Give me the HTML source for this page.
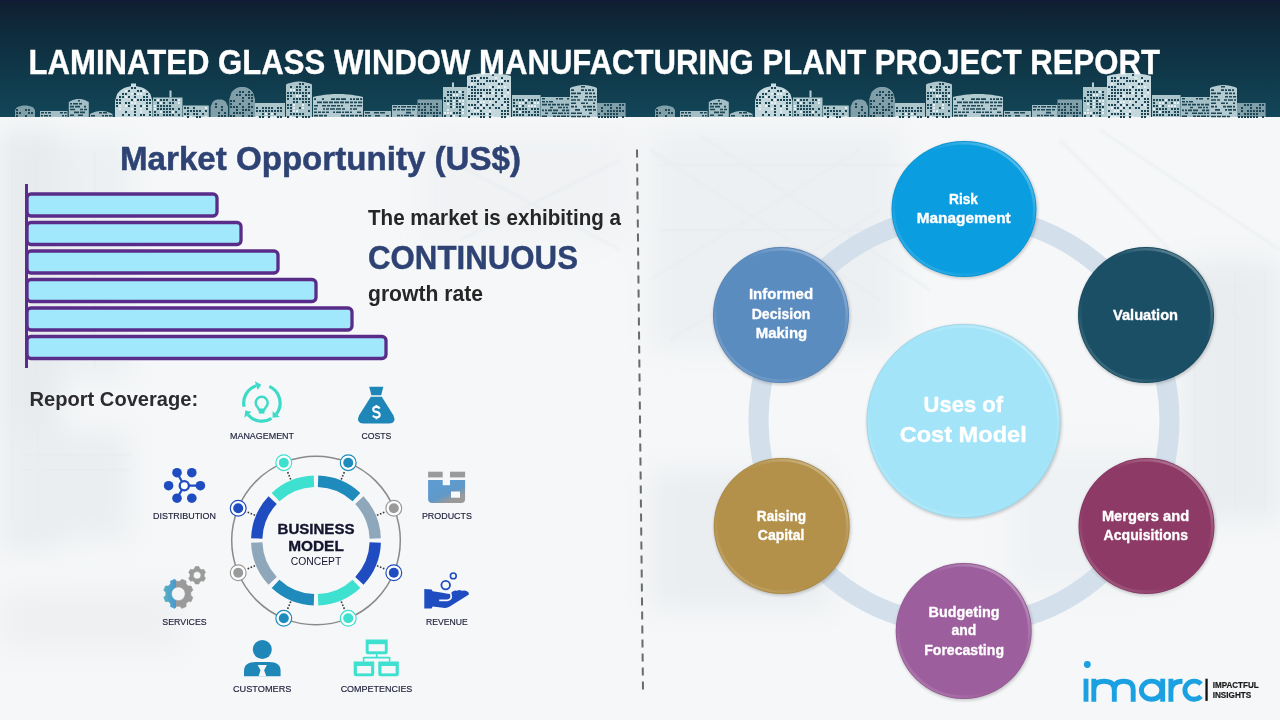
<!DOCTYPE html>
<html><head><meta charset="utf-8">
<style>
html,body{margin:0;padding:0;width:1280px;height:720px;overflow:hidden;background:#eef2f5;}
svg{display:block;font-family:"Liberation Sans",sans-serif;will-change:transform;}
</style></head><body>
<svg width="1280" height="720" viewBox="0 0 1280 720">
<defs>
  <linearGradient id="hg" x1="0" y1="0" x2="0" y2="1">
    <stop offset="0" stop-color="#101d30"/>
    <stop offset="0.28" stop-color="#0e2c3d"/>
    <stop offset="0.55" stop-color="#0f3647"/>
    <stop offset="1" stop-color="#124658"/>
  </linearGradient>
  <linearGradient id="bgL" x1="0" y1="0" x2="1" y2="0">
    <stop offset="0" stop-color="#e9edf0"/>
    <stop offset="0.5" stop-color="#f1f4f6"/>
    <stop offset="1" stop-color="#f3f5f7"/>
  </linearGradient>
  <pattern id="win" width="3" height="3" patternUnits="userSpaceOnUse">
    <rect x="0" y="0" width="2" height="1.8" fill="#d5e3e7"/>
  </pattern>
  <pattern id="win2" width="4" height="3" patternUnits="userSpaceOnUse">
    <rect x="0" y="0" width="3" height="1.8" fill="#dce8eb"/>
  </pattern>
  <pattern id="win3" width="3" height="3" patternUnits="userSpaceOnUse">
    <rect x="0" y="0" width="2.2" height="2" fill="#e4eef0"/>
    <rect x="1" y="1" width="1" height="1" fill="#1b3f4c"/>
  </pattern>
  <pattern id="hst" width="5" height="3" patternUnits="userSpaceOnUse">
    <rect x="0" y="0" width="4" height="1.6" fill="#c7d9de"/>
  </pattern>
  <pattern id="hst2" width="7" height="3.5" patternUnits="userSpaceOnUse">
    <rect x="0" y="0" width="6" height="2" fill="#d5e3e7"/>
  </pattern>
  <pattern id="blob" width="3" height="3" patternUnits="userSpaceOnUse">
    <rect x="0" y="0" width="2" height="2" fill="#9fb9c1"/>
  </pattern>
</defs>
<rect x="0" y="117" width="1280" height="603" fill="#f5f7f8"/>
<filter id="blur6" x="-30%" y="-30%" width="160%" height="160%"><feGaussianBlur stdDeviation="14"/></filter>
<filter id="blur2" x="-20%" y="-20%" width="140%" height="140%"><feGaussianBlur stdDeviation="1.2"/></filter>
<g filter="url(#blur6)">
  <rect x="0" y="130" width="60" height="420" fill="#e7ebee"/>
  <rect x="60" y="140" width="70" height="240" fill="#ecf0f2"/>
  <rect x="0" y="430" width="130" height="110" fill="#ebeef1"/>
  <rect x="0" y="590" width="180" height="60" fill="#eef0f2"/>
  <rect x="420" y="130" width="210" height="110" fill="#f0f2f4"/>
  <rect x="650" y="130" width="250" height="220" fill="#edf0f3"/>
  <rect x="1185" y="260" width="95" height="260" fill="#e9edf0"/>
  <rect x="650" y="470" width="180" height="140" fill="#ebeef1"/>
  <rect x="1010" y="450" width="160" height="140" fill="#eff2f4"/>
</g>
<g filter="url(#blur2)" stroke="#e6eaed" stroke-width="2.5" fill="none" opacity="0.5">
  <path d="M12,140 L12,520 M38,140 L38,520 M95,150 L95,370 M20,455 L130,455 M20,470 L130,470"/>
  <path d="M650,150 L880,300 M700,135 L930,290 M650,280 L860,150 M670,340 L880,210 M660,165 L940,165 M660,230 L900,230"/>
  <path d="M1195,270 L1195,510 M1235,270 L1235,510 M1265,270 L1265,510 M1060,140 L1240,320 M1100,130 L1280,250"/>
  <path d="M430,150 L620,250 M460,240 L620,160"/>
</g>

<rect x="0" y="0" width="1280" height="117" fill="url(#hg)"/>
<rect x="0" y="0" width="1280" height="1.5" fill="#14193a"/>

<g id="skyA">
<path d="M115.0,117 L115.0,101.0 L117.1,94.1 L119.2,91.6 L121.2,89.8 L123.3,88.5 L125.4,87.6 L127.5,86.9 L129.6,86.4 L131.7,86.1 L133.8,86.0 L135.8,86.1 L137.9,86.4 L140.0,86.9 L142.1,87.6 L144.2,88.5 L146.2,89.8 L148.3,91.6 L150.4,94.1 L152.5,101.0 L152.5,117 Z M467.0,117 L467.0,76.0 L469.0,75.5 L471.0,75.0 L473.0,74.6 L475.0,74.2 L477.0,73.9 L479.0,73.6 L481.0,73.4 L483.0,73.2 L485.0,73.1 L487.0,73.0 L489.0,73.0 L491.0,73.0 L493.0,73.1 L495.0,73.2 L497.0,73.4 L499.0,73.6 L501.0,73.9 L503.0,74.2 L505.0,74.6 L507.0,75.0 L509.0,75.5 L511.0,76.0 L511.0,117 Z" fill="#c3d7dc"/>
<path d="M153.0,117 L153.0,97.5 L155.1,97.5 L157.2,97.5 L159.3,97.5 L161.4,97.5 L163.5,97.5 L165.6,97.5 L167.8,97.5 L169.9,97.5 L172.0,97.5 L174.1,97.5 L176.2,97.5 L178.3,97.5 L180.4,97.5 L182.5,97.5 L182.5,117 Z M183.0,117 L183.0,105.6 L185.1,105.6 L187.3,105.6 L189.4,105.6 L191.6,105.6 L193.7,105.6 L195.9,105.6 L198.0,105.6 L200.2,105.6 L202.3,105.6 L204.5,105.6 L206.6,105.6 L208.8,105.6 L208.8,117 Z M255.0,117 L255.0,103.0 L257.0,103.0 L259.0,103.0 L261.0,103.0 L263.0,103.0 L265.0,103.0 L267.0,103.0 L269.0,103.0 L271.0,103.0 L273.0,103.0 L275.0,103.0 L277.0,103.0 L279.0,103.0 L281.0,103.0 L283.0,103.0 L285.0,103.0 L285.0,117 Z M286.0,117 L286.0,84.5 L288.0,83.6 L290.0,82.9 L292.0,82.4 L294.0,81.9 L296.0,81.7 L298.0,81.5 L300.0,81.5 L302.0,81.7 L304.0,81.9 L306.0,82.4 L308.0,82.9 L310.0,83.6 L312.0,84.5 L312.0,117 Z M443.0,117 L443.0,87.0 L445.0,87.0 L447.0,87.0 L449.0,87.0 L451.0,87.0 L453.0,87.0 L455.0,87.0 L457.0,87.0 L459.0,87.0 L461.0,87.0 L463.0,87.0 L465.0,87.0 L467.0,87.0 L467.0,117 Z M512.0,117 L512.0,95.0 L514.0,95.0 L516.1,95.0 L518.1,95.0 L520.2,95.0 L522.2,95.0 L524.3,95.0 L526.3,95.0 L528.3,95.0 L530.4,95.0 L532.4,95.0 L534.5,95.0 L536.5,95.0 L538.6,95.0 L540.6,95.0 L540.6,117 Z" fill="#adc6cc"/>
<path d="M40.0,117 L40.0,111.0 L42.1,111.0 L44.2,111.0 L46.3,111.0 L48.5,111.0 L50.6,111.0 L52.7,111.0 L54.8,111.0 L56.9,111.0 L59.0,111.0 L61.2,111.0 L63.3,111.0 L65.4,111.0 L67.5,111.0 L67.5,117 Z M68.8,117 L68.8,102.0 L70.8,100.9 L72.8,100.1 L74.8,99.5 L76.8,99.1 L78.8,99.0 L80.8,99.1 L82.8,99.5 L84.8,100.1 L86.8,100.9 L88.8,102.0 L88.8,117 Z M90.0,117 L90.0,114.0 L92.0,113.0 L94.1,112.2 L96.1,111.6 L98.2,111.2 L100.2,111.0 L102.3,111.0 L104.3,111.2 L106.4,111.6 L108.4,112.2 L110.5,113.0 L112.5,114.0 L112.5,117 Z M364.0,117 L364.0,111.0 L366.1,111.0 L368.2,111.0 L370.2,111.0 L372.3,111.0 L374.4,111.0 L376.5,111.0 L378.5,111.0 L380.6,111.0 L382.7,111.0 L384.8,111.0 L386.8,111.0 L388.9,111.0 L391.0,111.0 L391.0,117 Z M392.0,117 L392.0,105.0 L394.1,105.0 L396.2,105.0 L398.4,105.0 L400.5,105.0 L402.6,105.0 L404.8,105.0 L406.9,105.0 L409.0,105.0 L411.1,105.0 L413.2,105.0 L415.4,105.0 L417.5,105.0 L417.5,117 Z M541.0,117 L541.0,97.0 L543.1,97.0 L545.1,97.0 L547.2,97.0 L549.3,97.0 L551.4,97.0 L553.4,97.0 L555.5,97.0 L557.6,97.0 L559.6,97.0 L561.7,97.0 L563.8,97.0 L565.9,97.0 L567.9,97.0 L570.0,97.0 L570.0,117 Z" fill="#a3bec5"/>
<path d="M313.0,117 L313.0,97.0 L315.0,96.5 L317.0,96.1 L319.0,95.7 L321.0,95.4 L323.0,95.1 L325.0,94.8 L327.0,94.6 L329.0,94.4 L331.0,94.2 L333.0,94.1 L335.0,94.0 L337.0,94.0 L339.0,94.0 L341.0,94.0 L343.0,94.1 L345.0,94.2 L347.0,94.4 L349.0,94.6 L351.0,94.8 L353.0,95.1 L355.0,95.4 L357.0,95.7 L359.0,96.1 L361.0,96.5 L363.0,97.0 L363.0,117 Z M570.0,117 L570.0,88.0 L572.1,87.1 L574.2,86.4 L576.2,85.9 L578.3,85.4 L580.4,85.2 L582.5,85.0 L584.5,85.0 L586.6,85.2 L588.7,85.4 L590.8,85.9 L592.8,86.4 L594.9,87.1 L597.0,88.0 L597.0,117 Z" fill="#b3cbd1"/>
<path d="M15.0,117 L15.0,110.1 L17.0,107.3 L19.0,106.4 L21.0,105.9 L23.0,105.6 L25.0,105.5 L27.0,105.6 L29.0,105.9 L31.0,106.4 L33.0,107.3 L35.0,110.1 L35.0,117 Z M210.6,117 L210.6,106.4 L212.8,101.8 L214.9,100.3 L217.1,99.6 L219.3,99.4 L221.5,99.6 L223.7,100.3 L225.8,101.8 L228.0,106.4 L228.0,117 Z M229.4,117 L229.4,98.9 L231.5,92.3 L233.7,90.0 L235.8,88.5 L237.9,87.6 L240.1,87.1 L242.2,86.9 L244.3,87.1 L246.5,87.6 L248.6,88.5 L250.7,90.0 L252.9,92.3 L255.0,98.9 L255.0,117 Z M417.5,117 L417.5,99.4 L419.5,99.4 L421.6,99.4 L423.6,99.4 L425.7,99.4 L427.7,99.4 L429.8,99.4 L431.8,99.4 L433.8,99.4 L435.9,99.4 L437.9,99.4 L440.0,99.4 L442.0,99.4 L442.0,117 Z M597.0,117 L597.0,103.0 L599.0,103.0 L601.1,103.0 L603.1,103.0 L605.2,103.0 L607.2,103.0 L609.3,103.0 L611.3,103.0 L613.3,103.0 L615.4,103.0 L617.4,103.0 L619.5,103.0 L621.5,103.0 L623.6,103.0 L625.6,103.0 L625.6,117 Z" fill="#819fa8"/>
<path d="M16.0 109.0h2v2h-2zM25.0 109.0h2v2h-2zM28.0 109.0h2v2h-2zM16.0 112.0h2v2h-2zM19.0 112.0h2v2h-2zM28.0 112.0h2v2h-2zM31.0 112.0h2v2h-2zM16.0 115.0h2v2h-2zM25.0 115.0h2v2h-2zM41.0 112.0h3v1.6h-3zM45.0 112.0h2v1.6h-2zM48.0 112.0h3v1.6h-3zM60.0 112.0h3v1.6h-3zM64.0 112.0h2.7v1.6h-2.7zM41.0 114.9h2v1.6h-2zM44.0 114.9h4v1.6h-4zM49.0 114.9h2v1.6h-2zM62.0 114.9h2v1.6h-2zM65.0 114.9h1.7v1.6h-1.7zM78.0 100.0h2v1.6h-2zM70.0 102.9h2v1.6h-2zM73.0 102.9h5v1.6h-5zM79.0 102.9h3v1.6h-3zM70.0 105.8h4v1.6h-4zM75.0 105.8h5v1.6h-5zM84.0 105.8h2v1.6h-2zM70.0 108.7h5v1.6h-5zM80.0 108.7h3v1.6h-3zM84.0 108.7h3v1.6h-3zM74.0 111.6h5v1.6h-5zM80.0 111.6h5v1.6h-5zM70.0 114.5h4v1.6h-4zM78.0 114.5h5v1.6h-5zM99.0 112.0h3v1.6h-3zM103.0 112.0h4v1.6h-4zM91.0 114.9h4v1.6h-4zM102.0 114.9h2v1.6h-2zM105.0 114.9h3v1.6h-3zM109.0 114.9h2.7v1.6h-2.7zM131.0 87.0h2v2h-2zM134.0 87.0h2v2h-2zM128.0 90.0h2v2h-2zM137.0 90.0h2v2h-2zM140.0 90.0h2v2h-2zM122.0 93.0h2v2h-2zM125.0 93.0h2v2h-2zM134.0 93.0h2v2h-2zM146.0 93.0h2v2h-2zM119.0 96.0h2v2h-2zM122.0 96.0h2v2h-2zM128.0 96.0h2v2h-2zM134.0 96.0h2v2h-2zM143.0 96.0h2v2h-2zM146.0 96.0h2v2h-2zM116.0 99.0h2v2h-2zM119.0 99.0h2v2h-2zM131.0 99.0h2v2h-2zM137.0 99.0h2v2h-2zM140.0 99.0h2v2h-2zM143.0 99.0h2v2h-2zM146.0 99.0h2v2h-2zM149.0 99.0h2v2h-2zM116.0 102.0h2v2h-2zM119.0 102.0h2v2h-2zM125.0 102.0h2v2h-2zM128.0 102.0h2v2h-2zM146.0 102.0h2v2h-2zM149.0 102.0h2v2h-2zM116.0 105.0h2v2h-2zM128.0 105.0h2v2h-2zM134.0 105.0h2v2h-2zM140.0 105.0h2v2h-2zM146.0 105.0h2v2h-2zM134.0 108.0h2v2h-2zM146.0 108.0h2v2h-2zM125.0 111.0h2v2h-2zM134.0 111.0h2v2h-2zM149.0 111.0h2v2h-2zM122.0 114.0h2v2h-2zM128.0 114.0h2v2h-2zM134.0 114.0h2v2h-2zM140.0 114.0h2v2h-2zM143.0 114.0h2v2h-2zM149.0 114.0h2v2h-2zM154.0 99.0h2v2h-2zM160.0 99.0h2v2h-2zM163.0 99.0h2v2h-2zM166.0 99.0h2v2h-2zM172.0 99.0h2v2h-2zM175.0 99.0h2v2h-2zM157.0 102.0h2v2h-2zM163.0 102.0h2v2h-2zM169.0 102.0h2v2h-2zM172.0 102.0h2v2h-2zM157.0 105.0h2v2h-2zM160.0 105.0h2v2h-2zM163.0 105.0h2v2h-2zM166.0 105.0h2v2h-2zM169.0 105.0h2v2h-2zM157.0 108.0h2v2h-2zM160.0 108.0h2v2h-2zM163.0 108.0h2v2h-2zM166.0 108.0h2v2h-2zM169.0 108.0h2v2h-2zM172.0 108.0h2v2h-2zM178.0 108.0h2v2h-2zM154.0 111.0h2v2h-2zM163.0 111.0h2v2h-2zM166.0 111.0h2v2h-2zM169.0 111.0h2v2h-2zM175.0 111.0h2v2h-2zM154.0 114.0h2v2h-2zM157.0 114.0h2v2h-2zM163.0 114.0h2v2h-2zM166.0 114.0h2v2h-2zM169.0 114.0h2v2h-2zM172.0 114.0h2v2h-2zM178.0 114.0h2v2h-2zM184.0 107.0h2v2h-2zM187.0 107.0h2v2h-2zM193.0 107.0h2v2h-2zM187.0 110.0h2v2h-2zM190.0 110.0h2v2h-2zM193.0 110.0h2v2h-2zM196.0 110.0h2v2h-2zM199.0 110.0h2v2h-2zM205.0 110.0h2v2h-2zM184.0 113.0h2v2h-2zM187.0 113.0h2v2h-2zM193.0 113.0h2v2h-2zM196.0 113.0h2v2h-2zM202.0 113.0h2v2h-2zM187.0 116.0h2v2h-2zM196.0 116.0h2v2h-2zM199.0 116.0h2v2h-2zM215.0 103.0h2v2h-2zM215.0 106.0h2v2h-2zM221.0 106.0h2v2h-2zM221.0 109.0h2v2h-2zM218.0 112.0h2v2h-2zM224.0 112.0h2v2h-2zM218.0 115.0h2v2h-2zM221.0 115.0h2v2h-2zM224.0 115.0h2v2h-2zM239.0 91.0h2v2h-2zM242.0 91.0h2v2h-2zM248.0 91.0h2v2h-2zM236.0 94.0h2v2h-2zM239.0 94.0h2v2h-2zM245.0 94.0h2v2h-2zM248.0 94.0h2v2h-2zM251.0 94.0h2v2h-2zM242.0 97.0h2v2h-2zM248.0 97.0h2v2h-2zM251.0 97.0h2v2h-2zM230.0 100.0h2v2h-2zM233.0 100.0h2v2h-2zM242.0 100.0h2v2h-2zM251.0 100.0h2v2h-2zM230.0 103.0h2v2h-2zM239.0 103.0h2v2h-2zM248.0 103.0h2v2h-2zM230.0 106.0h2v2h-2zM233.0 106.0h2v2h-2zM236.0 106.0h2v2h-2zM242.0 106.0h2v2h-2zM248.0 106.0h2v2h-2zM251.0 106.0h2v2h-2zM236.0 109.0h2v2h-2zM242.0 109.0h2v2h-2zM245.0 109.0h2v2h-2zM248.0 109.0h2v2h-2zM233.0 112.0h2v2h-2zM236.0 112.0h2v2h-2zM239.0 112.0h2v2h-2zM242.0 112.0h2v2h-2zM251.0 112.0h2v2h-2zM230.0 115.0h2v2h-2zM233.0 115.0h2v2h-2zM242.0 115.0h2v2h-2zM248.0 115.0h2v2h-2zM251.0 115.0h2v2h-2zM256.0 107.0h2v2h-2zM262.0 107.0h2v2h-2zM265.0 107.0h2v2h-2zM268.0 107.0h2v2h-2zM271.0 107.0h2v2h-2zM277.0 107.0h2v2h-2zM280.0 107.0h2v2h-2zM256.0 110.0h2v2h-2zM259.0 110.0h2v2h-2zM262.0 110.0h2v2h-2zM265.0 110.0h2v2h-2zM268.0 110.0h2v2h-2zM271.0 110.0h2v2h-2zM274.0 110.0h2v2h-2zM277.0 110.0h2v2h-2zM280.0 110.0h2v2h-2zM262.0 113.0h2v2h-2zM268.0 113.0h2v2h-2zM274.0 113.0h2v2h-2zM259.0 116.0h2v2h-2zM262.0 116.0h2v2h-2zM268.0 116.0h2v2h-2zM277.0 116.0h2v2h-2zM280.0 116.0h2v2h-2zM299.0 83.0h2v2h-2zM302.0 83.0h2v2h-2zM290.0 86.0h2v2h-2zM296.0 86.0h2v2h-2zM299.0 86.0h2v2h-2zM305.0 86.0h2v2h-2zM308.0 86.0h2v2h-2zM296.0 89.0h2v2h-2zM299.0 89.0h2v2h-2zM305.0 89.0h2v2h-2zM287.0 92.0h2v2h-2zM290.0 92.0h2v2h-2zM293.0 92.0h2v2h-2zM296.0 92.0h2v2h-2zM299.0 92.0h2v2h-2zM302.0 92.0h2v2h-2zM305.0 92.0h2v2h-2zM308.0 92.0h2v2h-2zM287.0 95.0h2v2h-2zM290.0 95.0h2v2h-2zM302.0 95.0h2v2h-2zM305.0 95.0h2v2h-2zM287.0 98.0h2v2h-2zM293.0 98.0h2v2h-2zM296.0 98.0h2v2h-2zM299.0 98.0h2v2h-2zM302.0 98.0h2v2h-2zM305.0 98.0h2v2h-2zM308.0 98.0h2v2h-2zM293.0 101.0h2v2h-2zM296.0 101.0h2v2h-2zM302.0 101.0h2v2h-2zM305.0 101.0h2v2h-2zM308.0 101.0h2v2h-2zM287.0 104.0h2v2h-2zM290.0 104.0h2v2h-2zM308.0 104.0h2v2h-2zM287.0 107.0h2v2h-2zM290.0 107.0h2v2h-2zM299.0 107.0h2v2h-2zM290.0 110.0h2v2h-2zM308.0 110.0h2v2h-2zM290.0 113.0h2v2h-2zM293.0 113.0h2v2h-2zM296.0 113.0h2v2h-2zM299.0 113.0h2v2h-2zM302.0 113.0h2v2h-2zM287.0 116.0h2v2h-2zM296.0 116.0h2v2h-2zM302.0 116.0h2v2h-2zM305.0 116.0h2v2h-2zM308.0 116.0h2v2h-2zM314.0 98.3h2v1.6h-2zM322.0 98.3h2v1.6h-2zM331.0 98.3h4v1.6h-4zM336.0 98.3h4v1.6h-4zM341.0 98.3h5v1.6h-5zM350.0 98.3h2v1.6h-2zM353.0 98.3h2v1.6h-2zM356.0 98.3h3v1.6h-3zM360.0 98.3h2.2v1.6h-2.2zM317.0 101.6h5v1.6h-5zM323.0 101.6h5v1.6h-5zM329.0 101.6h4v1.6h-4zM334.0 101.6h5v1.6h-5zM340.0 101.6h4v1.6h-4zM345.0 101.6h4v1.6h-4zM350.0 101.6h3v1.6h-3zM354.0 101.6h3v1.6h-3zM358.0 101.6h4.2v1.6h-4.2zM314.0 104.9h4v1.6h-4zM322.0 104.9h4v1.6h-4zM327.0 104.9h3v1.6h-3zM331.0 104.9h5v1.6h-5zM337.0 104.9h3v1.6h-3zM341.0 104.9h2v1.6h-2zM350.0 104.9h3v1.6h-3zM354.0 104.9h2v1.6h-2zM357.0 104.9h5v1.6h-5zM314.0 108.2h3v1.6h-3zM323.0 108.2h2v1.6h-2zM326.0 108.2h3v1.6h-3zM330.0 108.2h5v1.6h-5zM336.0 108.2h5v1.6h-5zM342.0 108.2h3v1.6h-3zM350.0 108.2h2v1.6h-2zM353.0 108.2h4v1.6h-4zM314.0 111.5h3v1.6h-3zM318.0 111.5h3v1.6h-3zM322.0 111.5h3v1.6h-3zM326.0 111.5h3v1.6h-3zM333.0 111.5h2v1.6h-2zM336.0 111.5h5v1.6h-5zM342.0 111.5h2v1.6h-2zM345.0 111.5h4v1.6h-4zM350.0 111.5h2v1.6h-2zM357.0 111.5h4v1.6h-4zM314.0 114.8h4v1.6h-4zM319.0 114.8h4v1.6h-4zM324.0 114.8h3v1.6h-3zM341.0 114.8h4v1.6h-4zM346.0 114.8h3v1.6h-3zM350.0 114.8h4v1.6h-4zM355.0 114.8h3v1.6h-3zM359.0 114.8h3.2v1.6h-3.2zM365.0 112.0h5v1.6h-5zM374.0 112.0h5v1.6h-5zM380.0 112.0h5v1.6h-5zM365.0 114.9h2v1.6h-2zM368.0 114.9h3v1.6h-3zM375.0 114.9h5v1.6h-5zM386.0 114.9h3v1.6h-3zM393.0 106.0h4v1.6h-4zM398.0 106.0h2v1.6h-2zM401.0 106.0h5v1.6h-5zM407.0 106.0h4v1.6h-4zM412.0 106.0h4v1.6h-4zM393.0 108.9h3v1.6h-3zM397.0 108.9h3v1.6h-3zM401.0 108.9h4v1.6h-4zM406.0 108.9h5v1.6h-5zM412.0 108.9h3v1.6h-3zM406.0 111.8h5v1.6h-5zM397.0 114.7h3v1.6h-3zM401.0 114.7h2v1.6h-2zM404.0 114.7h5v1.6h-5zM410.0 114.7h4v1.6h-4zM418.0 103.0h2v2h-2zM421.0 103.0h2v2h-2zM424.0 103.0h2v2h-2zM427.0 103.0h2v2h-2zM430.0 103.0h2v2h-2zM436.0 103.0h2v2h-2zM418.0 106.0h2v2h-2zM424.0 106.0h2v2h-2zM430.0 106.0h2v2h-2zM433.0 106.0h2v2h-2zM436.0 106.0h2v2h-2zM418.0 109.0h2v2h-2zM421.0 109.0h2v2h-2zM424.0 109.0h2v2h-2zM430.0 109.0h2v2h-2zM436.0 109.0h2v2h-2zM421.0 112.0h2v2h-2zM424.0 112.0h2v2h-2zM427.0 112.0h2v2h-2zM430.0 112.0h2v2h-2zM433.0 112.0h2v2h-2zM436.0 112.0h2v2h-2zM439.0 112.0h2v2h-2zM418.0 115.0h2v2h-2zM421.0 115.0h2v2h-2zM424.0 115.0h2v2h-2zM433.0 115.0h2v2h-2zM436.0 115.0h2v2h-2zM447.0 91.0h2v2h-2zM450.0 91.0h2v2h-2zM453.0 91.0h2v2h-2zM456.0 91.0h2v2h-2zM462.0 91.0h2v2h-2zM447.0 94.0h2v2h-2zM450.0 94.0h2v2h-2zM462.0 94.0h2v2h-2zM444.0 97.0h2v2h-2zM450.0 97.0h2v2h-2zM453.0 97.0h2v2h-2zM456.0 97.0h2v2h-2zM459.0 97.0h2v2h-2zM462.0 97.0h2v2h-2zM444.0 100.0h2v2h-2zM447.0 100.0h2v2h-2zM450.0 100.0h2v2h-2zM456.0 100.0h2v2h-2zM450.0 103.0h2v2h-2zM456.0 103.0h2v2h-2zM459.0 103.0h2v2h-2zM450.0 106.0h2v2h-2zM456.0 106.0h2v2h-2zM459.0 106.0h2v2h-2zM462.0 106.0h2v2h-2zM459.0 109.0h2v2h-2zM453.0 112.0h2v2h-2zM456.0 112.0h2v2h-2zM459.0 112.0h2v2h-2zM444.0 115.0h2v2h-2zM450.0 115.0h2v2h-2zM459.0 115.0h2v2h-2zM492.0 74.0h2v2h-2zM471.0 77.0h2v2h-2zM474.0 77.0h2v2h-2zM480.0 77.0h2v2h-2zM483.0 77.0h2v2h-2zM486.0 77.0h2v2h-2zM501.0 77.0h2v2h-2zM471.0 80.0h2v2h-2zM474.0 80.0h2v2h-2zM477.0 80.0h2v2h-2zM486.0 80.0h2v2h-2zM489.0 80.0h2v2h-2zM492.0 80.0h2v2h-2zM495.0 80.0h2v2h-2zM504.0 80.0h2v2h-2zM507.0 80.0h2v2h-2zM477.0 83.0h2v2h-2zM480.0 83.0h2v2h-2zM483.0 83.0h2v2h-2zM498.0 83.0h2v2h-2zM501.0 83.0h2v2h-2zM468.0 86.0h2v2h-2zM471.0 86.0h2v2h-2zM474.0 86.0h2v2h-2zM492.0 86.0h2v2h-2zM471.0 89.0h2v2h-2zM474.0 89.0h2v2h-2zM477.0 89.0h2v2h-2zM480.0 89.0h2v2h-2zM483.0 89.0h2v2h-2zM486.0 89.0h2v2h-2zM489.0 89.0h2v2h-2zM495.0 89.0h2v2h-2zM498.0 89.0h2v2h-2zM501.0 89.0h2v2h-2zM507.0 89.0h2v2h-2zM471.0 92.0h2v2h-2zM474.0 92.0h2v2h-2zM477.0 92.0h2v2h-2zM480.0 92.0h2v2h-2zM486.0 92.0h2v2h-2zM489.0 92.0h2v2h-2zM495.0 92.0h2v2h-2zM501.0 92.0h2v2h-2zM468.0 95.0h2v2h-2zM471.0 95.0h2v2h-2zM474.0 95.0h2v2h-2zM480.0 95.0h2v2h-2zM495.0 95.0h2v2h-2zM501.0 95.0h2v2h-2zM468.0 98.0h2v2h-2zM471.0 98.0h2v2h-2zM474.0 98.0h2v2h-2zM477.0 98.0h2v2h-2zM483.0 98.0h2v2h-2zM486.0 98.0h2v2h-2zM489.0 98.0h2v2h-2zM492.0 98.0h2v2h-2zM498.0 98.0h2v2h-2zM504.0 98.0h2v2h-2zM507.0 98.0h2v2h-2zM477.0 101.0h2v2h-2zM495.0 101.0h2v2h-2zM504.0 101.0h2v2h-2zM507.0 101.0h2v2h-2zM468.0 104.0h2v2h-2zM471.0 104.0h2v2h-2zM474.0 104.0h2v2h-2zM480.0 104.0h2v2h-2zM486.0 104.0h2v2h-2zM492.0 104.0h2v2h-2zM501.0 104.0h2v2h-2zM507.0 104.0h2v2h-2zM474.0 107.0h2v2h-2zM477.0 107.0h2v2h-2zM483.0 107.0h2v2h-2zM489.0 107.0h2v2h-2zM495.0 107.0h2v2h-2zM498.0 107.0h2v2h-2zM507.0 107.0h2v2h-2zM468.0 110.0h2v2h-2zM480.0 110.0h2v2h-2zM501.0 110.0h2v2h-2zM504.0 110.0h2v2h-2zM507.0 110.0h2v2h-2zM471.0 113.0h2v2h-2zM474.0 113.0h2v2h-2zM477.0 113.0h2v2h-2zM480.0 113.0h2v2h-2zM483.0 113.0h2v2h-2zM489.0 113.0h2v2h-2zM501.0 113.0h2v2h-2zM504.0 113.0h2v2h-2zM507.0 113.0h2v2h-2zM468.0 116.0h2v2h-2zM480.0 116.0h2v2h-2zM483.0 116.0h2v2h-2zM489.0 116.0h2v2h-2zM501.0 116.0h2v2h-2zM504.0 116.0h2v2h-2zM513.0 99.0h2v2h-2zM516.0 99.0h2v2h-2zM519.0 99.0h2v2h-2zM522.0 99.0h2v2h-2zM528.0 99.0h2v2h-2zM531.0 99.0h2v2h-2zM534.0 99.0h2v2h-2zM537.0 99.0h2v2h-2zM513.0 102.0h2v2h-2zM525.0 102.0h2v2h-2zM531.0 102.0h2v2h-2zM513.0 105.0h2v2h-2zM516.0 105.0h2v2h-2zM522.0 105.0h2v2h-2zM516.0 108.0h2v2h-2zM519.0 108.0h2v2h-2zM522.0 108.0h2v2h-2zM525.0 108.0h2v2h-2zM531.0 108.0h2v2h-2zM534.0 108.0h2v2h-2zM537.0 108.0h2v2h-2zM513.0 111.0h2v2h-2zM516.0 111.0h2v2h-2zM522.0 111.0h2v2h-2zM525.0 111.0h2v2h-2zM528.0 111.0h2v2h-2zM534.0 111.0h2v2h-2zM537.0 111.0h2v2h-2zM513.0 114.0h2v2h-2zM516.0 114.0h2v2h-2zM519.0 114.0h2v2h-2zM522.0 114.0h2v2h-2zM528.0 114.0h2v2h-2zM531.0 114.0h2v2h-2zM534.0 114.0h2v2h-2zM537.0 114.0h2v2h-2zM542.0 98.0h3v1.6h-3zM556.0 98.0h2v1.6h-2zM559.0 98.0h4v1.6h-4zM567.0 98.0h2.2v1.6h-2.2zM542.0 100.9h3v1.6h-3zM546.0 100.9h2v1.6h-2zM549.0 100.9h4v1.6h-4zM542.0 103.8h5v1.6h-5zM548.0 103.8h3v1.6h-3zM552.0 103.8h4v1.6h-4zM557.0 103.8h3v1.6h-3zM561.0 103.8h3v1.6h-3zM565.0 103.8h4v1.6h-4zM550.0 106.7h3v1.6h-3zM558.0 106.7h4v1.6h-4zM563.0 106.7h2v1.6h-2zM566.0 106.7h2v1.6h-2zM542.0 109.6h2v1.6h-2zM545.0 109.6h2v1.6h-2zM548.0 109.6h4v1.6h-4zM553.0 109.6h5v1.6h-5zM562.0 109.6h3v1.6h-3zM566.0 109.6h3.2v1.6h-3.2zM545.0 112.5h3v1.6h-3zM552.0 112.5h5v1.6h-5zM558.0 112.5h5v1.6h-5zM564.0 112.5h2v1.6h-2zM567.0 112.5h2.2v1.6h-2.2zM542.0 115.4h5v1.6h-5zM553.0 115.4h3v1.6h-3zM557.0 115.4h3v1.6h-3zM561.0 115.4h5v1.6h-5zM567.0 115.4h2.2v1.6h-2.2zM581.0 86.0h4v1.6h-4zM571.0 89.3h3v1.6h-3zM581.0 89.3h3v1.6h-3zM585.0 89.3h2v1.6h-2zM588.0 89.3h3v1.6h-3zM592.0 89.3h2v1.6h-2zM571.0 92.6h5v1.6h-5zM577.0 92.6h4v1.6h-4zM585.0 92.6h3v1.6h-3zM589.0 92.6h3v1.6h-3zM593.0 92.6h2v1.6h-2zM571.0 95.9h2v1.6h-2zM574.0 95.9h4v1.6h-4zM585.0 95.9h3v1.6h-3zM589.0 95.9h3v1.6h-3zM593.0 95.9h3.2v1.6h-3.2zM571.0 99.2h5v1.6h-5zM577.0 99.2h3v1.6h-3zM584.0 99.2h3v1.6h-3zM588.0 99.2h5v1.6h-5zM594.0 99.2h2v1.6h-2zM571.0 102.5h5v1.6h-5zM581.0 102.5h4v1.6h-4zM586.0 102.5h2v1.6h-2zM593.0 102.5h2v1.6h-2zM571.0 105.8h3v1.6h-3zM575.0 105.8h2v1.6h-2zM583.0 105.8h3v1.6h-3zM587.0 105.8h5v1.6h-5zM593.0 105.8h2v1.6h-2zM575.0 109.1h5v1.6h-5zM585.0 109.1h2v1.6h-2zM588.0 109.1h4v1.6h-4zM593.0 109.1h3v1.6h-3zM571.0 112.4h5v1.6h-5zM577.0 112.4h5v1.6h-5zM589.0 112.4h3v1.6h-3zM571.0 115.7h5v1.6h-5zM577.0 115.7h4v1.6h-4zM582.0 115.7h4v1.6h-4zM587.0 115.7h3v1.6h-3zM604.0 104.0h2v2h-2zM607.0 104.0h2v2h-2zM610.0 104.0h2v2h-2zM619.0 104.0h2v2h-2zM622.0 104.0h2v2h-2zM601.0 107.0h2v2h-2zM610.0 107.0h2v2h-2zM616.0 107.0h2v2h-2zM619.0 107.0h2v2h-2zM601.0 110.0h2v2h-2zM607.0 110.0h2v2h-2zM610.0 110.0h2v2h-2zM613.0 110.0h2v2h-2zM616.0 110.0h2v2h-2zM619.0 110.0h2v2h-2zM622.0 110.0h2v2h-2zM598.0 113.0h2v2h-2zM604.0 113.0h2v2h-2zM607.0 113.0h2v2h-2zM610.0 113.0h2v2h-2zM613.0 113.0h2v2h-2zM616.0 113.0h2v2h-2zM598.0 116.0h2v2h-2zM601.0 116.0h2v2h-2zM604.0 116.0h2v2h-2zM607.0 116.0h2v2h-2zM610.0 116.0h2v2h-2zM613.0 116.0h2v2h-2zM616.0 116.0h2v2h-2zM622.0 116.0h2v2h-2z" fill="#1d4756"/>
<path d="M125.0 90.0h2v2h-2zM143.0 90.0h2v2h-2zM131.0 93.0h2v2h-2zM137.0 93.0h2v2h-2zM140.0 93.0h2v2h-2zM125.0 96.0h2v2h-2zM134.0 99.0h2v2h-2zM131.0 102.0h2v2h-2zM134.0 102.0h2v2h-2zM119.0 105.0h2v2h-2zM125.0 105.0h2v2h-2zM143.0 105.0h2v2h-2zM119.0 108.0h2v2h-2zM131.0 108.0h2v2h-2zM140.0 108.0h2v2h-2zM140.0 111.0h2v2h-2zM157.0 99.0h2v2h-2zM178.0 99.0h2v2h-2zM160.0 102.0h2v2h-2zM178.0 102.0h2v2h-2zM154.0 105.0h2v2h-2zM154.0 108.0h2v2h-2zM160.0 111.0h2v2h-2zM172.0 111.0h2v2h-2zM205.0 107.0h2v2h-2zM184.0 116.0h2v2h-2zM190.0 116.0h2v2h-2zM205.0 116.0h2v2h-2zM265.0 113.0h2v2h-2zM271.0 113.0h2v2h-2zM256.0 116.0h2v2h-2zM265.0 116.0h2v2h-2zM271.0 116.0h2v2h-2zM274.0 116.0h2v2h-2zM290.0 89.0h2v2h-2zM293.0 89.0h2v2h-2zM296.0 95.0h2v2h-2zM299.0 95.0h2v2h-2zM308.0 95.0h2v2h-2zM293.0 104.0h2v2h-2zM302.0 104.0h2v2h-2zM293.0 107.0h2v2h-2zM302.0 107.0h2v2h-2zM293.0 110.0h2v2h-2zM296.0 110.0h2v2h-2zM290.0 116.0h2v2h-2zM459.0 91.0h2v2h-2zM453.0 94.0h2v2h-2zM456.0 94.0h2v2h-2zM453.0 100.0h2v2h-2zM459.0 100.0h2v2h-2zM462.0 100.0h2v2h-2zM447.0 103.0h2v2h-2zM453.0 103.0h2v2h-2zM462.0 103.0h2v2h-2zM453.0 106.0h2v2h-2zM447.0 109.0h2v2h-2zM462.0 109.0h2v2h-2zM444.0 112.0h2v2h-2zM447.0 112.0h2v2h-2zM450.0 112.0h2v2h-2zM462.0 112.0h2v2h-2zM453.0 115.0h2v2h-2zM477.0 77.0h2v2h-2zM495.0 77.0h2v2h-2zM498.0 80.0h2v2h-2zM501.0 80.0h2v2h-2zM471.0 83.0h2v2h-2zM489.0 86.0h2v2h-2zM498.0 86.0h2v2h-2zM504.0 86.0h2v2h-2zM492.0 92.0h2v2h-2zM507.0 92.0h2v2h-2zM483.0 95.0h2v2h-2zM504.0 95.0h2v2h-2zM480.0 101.0h2v2h-2zM483.0 101.0h2v2h-2zM489.0 101.0h2v2h-2zM483.0 104.0h2v2h-2zM504.0 104.0h2v2h-2zM471.0 107.0h2v2h-2zM480.0 107.0h2v2h-2zM474.0 110.0h2v2h-2zM477.0 110.0h2v2h-2zM489.0 110.0h2v2h-2zM486.0 113.0h2v2h-2zM471.0 116.0h2v2h-2zM474.0 116.0h2v2h-2zM486.0 116.0h2v2h-2zM492.0 116.0h2v2h-2zM507.0 116.0h2v2h-2zM525.0 99.0h2v2h-2zM519.0 102.0h2v2h-2zM522.0 102.0h2v2h-2zM534.0 102.0h2v2h-2zM537.0 102.0h2v2h-2zM519.0 105.0h2v2h-2zM528.0 105.0h2v2h-2zM531.0 105.0h2v2h-2zM534.0 105.0h2v2h-2zM513.0 108.0h2v2h-2zM519.0 111.0h2v2h-2z" fill="#e6f0f2"/>
<rect x="131" y="83.5" width="5" height="3.5" fill="#c9dde2"/>
<rect x="169.5" y="90.5" width="2" height="7" fill="#b9d0d6"/>
<rect x="452" y="82.5" width="2" height="4.5" fill="#b9d0d6"/>
</g><use href="#skyA" x="640" y="0"/>
<text x="28.6" y="73.8" font-size="34.4" font-weight="bold" fill="#ffffff" stroke="#ffffff" stroke-width="0.35" textLength="1131.4" lengthAdjust="spacingAndGlyphs">LAMINATED GLASS WINDOW MANUFACTURING PLANT PROJECT REPORT</text>

<text x="120" y="170" font-size="33.9" font-weight="bold" fill="#2e4374" stroke="#2e4374" stroke-width="0.5" textLength="401" lengthAdjust="spacingAndGlyphs">Market Opportunity (US$)</text>
<g fill="#a2e8fc" stroke="#5a2c8a" stroke-width="3.3">
  <rect x="27" y="194" width="190" height="22" rx="4"/>
  <rect x="27" y="222.5" width="214" height="22" rx="4"/>
  <rect x="27" y="251" width="251" height="22" rx="4"/>
  <rect x="27" y="279.5" width="289" height="22" rx="4"/>
  <rect x="27" y="308" width="325" height="22" rx="4"/>
  <rect x="27" y="336.5" width="359" height="22" rx="4"/>
</g>
<rect x="25" y="184" width="3" height="184" fill="#5a2d8a"/>
<text x="368" y="225" font-size="21.5" font-weight="bold" fill="#262626" textLength="253" lengthAdjust="spacingAndGlyphs">The market is exhibiting a</text>
<text x="368" y="269" font-size="32.3" font-weight="bold" fill="#2e4374" stroke="#2e4374" stroke-width="0.4" textLength="210" lengthAdjust="spacingAndGlyphs">CONTINUOUS</text>
<text x="368" y="301" font-size="21.5" font-weight="bold" fill="#262626" textLength="115" lengthAdjust="spacingAndGlyphs">growth rate</text>
<text x="29.6" y="405.5" font-size="20.3" font-weight="bold" fill="#2b2b30" textLength="168.5" lengthAdjust="spacingAndGlyphs">Report Coverage:</text>
<line x1="637" y1="149.5" x2="643" y2="690" stroke="#6a6a6a" stroke-width="2" stroke-dasharray="8 6"/>

<circle cx="316" cy="540.5" r="84.3" fill="none" stroke="#8a8a8a" stroke-width="1.5"/>
<path d="M318.07,481.24 A59.3,59.3 0 0 1 356.44,497.13" fill="none" stroke="#1f8bbd" stroke-width="11.3"/>
<path d="M359.37,500.06 A59.3,59.3 0 0 1 375.26,538.43" fill="none" stroke="#8ea7bb" stroke-width="11.3"/>
<path d="M375.26,542.57 A59.3,59.3 0 0 1 359.37,580.94" fill="none" stroke="#1f4cc0" stroke-width="11.3"/>
<path d="M356.44,583.87 A59.3,59.3 0 0 1 318.07,599.76" fill="none" stroke="#3ee0cf" stroke-width="11.3"/>
<path d="M313.93,599.76 A59.3,59.3 0 0 1 275.56,583.87" fill="none" stroke="#1f8bbd" stroke-width="11.3"/>
<path d="M272.63,580.94 A59.3,59.3 0 0 1 256.74,542.57" fill="none" stroke="#8ea7bb" stroke-width="11.3"/>
<path d="M256.74,538.43 A59.3,59.3 0 0 1 272.63,500.06" fill="none" stroke="#1f4cc0" stroke-width="11.3"/>
<path d="M275.56,497.13 A59.3,59.3 0 0 1 313.93,481.24" fill="none" stroke="#3ee0cf" stroke-width="11.3"/>
<line x1="344.32" y1="472.13" x2="341.26" y2="479.52" stroke="#333" stroke-width="1.6" stroke-dasharray="1.6 1.6"/>
<circle cx="348.22" cy="462.71" r="7.9" fill="#fff" stroke="#1f8bbd" stroke-width="1.2"/>
<circle cx="348.22" cy="462.71" r="5.0" fill="#1f8bbd"/>
<line x1="384.37" y1="512.18" x2="376.98" y2="515.24" stroke="#333" stroke-width="1.6" stroke-dasharray="1.6 1.6"/>
<circle cx="393.79" cy="508.28" r="7.9" fill="#fff" stroke="#9a9a9a" stroke-width="1.2"/>
<circle cx="393.79" cy="508.28" r="5.0" fill="#9a9a9a"/>
<line x1="384.37" y1="568.82" x2="376.98" y2="565.76" stroke="#333" stroke-width="1.6" stroke-dasharray="1.6 1.6"/>
<circle cx="393.79" cy="572.72" r="7.9" fill="#fff" stroke="#1f4cc0" stroke-width="1.2"/>
<circle cx="393.79" cy="572.72" r="5.0" fill="#1f4cc0"/>
<line x1="344.32" y1="608.87" x2="341.26" y2="601.48" stroke="#333" stroke-width="1.6" stroke-dasharray="1.6 1.6"/>
<circle cx="348.22" cy="618.29" r="7.9" fill="#fff" stroke="#3ee0cf" stroke-width="1.2"/>
<circle cx="348.22" cy="618.29" r="5.0" fill="#3ee0cf"/>
<line x1="287.68" y1="608.87" x2="290.74" y2="601.48" stroke="#333" stroke-width="1.6" stroke-dasharray="1.6 1.6"/>
<circle cx="283.78" cy="618.29" r="7.9" fill="#fff" stroke="#1f8bbd" stroke-width="1.2"/>
<circle cx="283.78" cy="618.29" r="5.0" fill="#1f8bbd"/>
<line x1="247.63" y1="568.82" x2="255.02" y2="565.76" stroke="#333" stroke-width="1.6" stroke-dasharray="1.6 1.6"/>
<circle cx="238.21" cy="572.72" r="7.9" fill="#fff" stroke="#9a9a9a" stroke-width="1.2"/>
<circle cx="238.21" cy="572.72" r="5.0" fill="#9a9a9a"/>
<line x1="247.63" y1="512.18" x2="255.02" y2="515.24" stroke="#333" stroke-width="1.6" stroke-dasharray="1.6 1.6"/>
<circle cx="238.21" cy="508.28" r="7.9" fill="#fff" stroke="#1f4cc0" stroke-width="1.2"/>
<circle cx="238.21" cy="508.28" r="5.0" fill="#1f4cc0"/>
<line x1="287.68" y1="472.13" x2="290.74" y2="479.52" stroke="#333" stroke-width="1.6" stroke-dasharray="1.6 1.6"/>
<circle cx="283.78" cy="462.71" r="7.9" fill="#fff" stroke="#3ee0cf" stroke-width="1.2"/>
<circle cx="283.78" cy="462.71" r="5.0" fill="#3ee0cf"/>
<text x="316" y="533.6" font-size="15.5" font-weight="bold" fill="#14142e" stroke="#14142e" stroke-width="0.35" text-anchor="middle" textLength="77" lengthAdjust="spacingAndGlyphs">BUSINESS</text>
<text x="316" y="550.5" font-size="15.5" font-weight="bold" fill="#14142e" stroke="#14142e" stroke-width="0.35" text-anchor="middle" textLength="55.6" lengthAdjust="spacingAndGlyphs">MODEL</text>
<text x="316" y="565" font-size="10" fill="#14142e" text-anchor="middle" textLength="50.6" lengthAdjust="spacingAndGlyphs">CONCEPT</text>

<text x="262" y="439.4" font-size="9.6" fill="#1c1c38" stroke="#1c1c38" stroke-width="0.15" text-anchor="middle" textLength="64" lengthAdjust="spacingAndGlyphs">MANAGEMENT</text>
<text x="376.4" y="439.4" font-size="9.6" fill="#1c1c38" stroke="#1c1c38" stroke-width="0.15" text-anchor="middle" textLength="30" lengthAdjust="spacingAndGlyphs">COSTS</text>
<text x="184.5" y="518.7" font-size="9.6" fill="#1c1c38" stroke="#1c1c38" stroke-width="0.15" text-anchor="middle" textLength="63" lengthAdjust="spacingAndGlyphs">DISTRIBUTION</text>
<text x="446.9" y="518.7" font-size="9.6" fill="#1c1c38" stroke="#1c1c38" stroke-width="0.15" text-anchor="middle" textLength="50" lengthAdjust="spacingAndGlyphs">PRODUCTS</text>
<text x="184.5" y="624.6" font-size="9.6" fill="#1c1c38" stroke="#1c1c38" stroke-width="0.15" text-anchor="middle" textLength="44.3" lengthAdjust="spacingAndGlyphs">SERVICES</text>
<text x="446.9" y="624.6" font-size="9.6" fill="#1c1c38" stroke="#1c1c38" stroke-width="0.15" text-anchor="middle" textLength="41.7" lengthAdjust="spacingAndGlyphs">REVENUE</text>
<text x="262.2" y="692" font-size="9.6" fill="#1c1c38" stroke="#1c1c38" stroke-width="0.15" text-anchor="middle" textLength="58.4" lengthAdjust="spacingAndGlyphs">CUSTOMERS</text>
<text x="376.5" y="692" font-size="9.6" fill="#1c1c38" stroke="#1c1c38" stroke-width="0.15" text-anchor="middle" textLength="71.7" lengthAdjust="spacingAndGlyphs">COMPETENCIES</text>
<path d="M244.10,406.78 A18.2,18.2 0 0 1 256.28,385.69" fill="none" stroke="#3ddac7" stroke-width="3.2"/>
<path d="M254.85,381.32 L257.70,390.07 L261.26,384.81 Z" fill="#3ddac7"/>
<path d="M269.30,386.37 A18.2,18.2 0 0 1 276.24,414.21" fill="none" stroke="#3ddac7" stroke-width="3.2"/>
<path d="M279.87,417.04 L272.62,411.37 L272.60,417.72 Z" fill="#3ddac7"/>
<path d="M271.54,418.43 A18.2,18.2 0 0 1 247.96,414.70" fill="none" stroke="#3ddac7" stroke-width="3.2"/>
<path d="M244.43,417.66 L251.48,411.74 L245.27,410.40 Z" fill="#3ddac7"/>
<path d="M257.6,407.2 A6.0,6.0 0 1 1 265.8,407.2 L264.3,409.8 L259.1,409.8 Z" fill="none" stroke="#3ddac7" stroke-width="2.4" stroke-linejoin="round"/>
<rect x="258.9" y="410" width="5.6" height="3.6" fill="#3ddac7"/>
<path d="M369.2,386.7 L383.3,386.7 L381.2,395.3 L371.4,395.3 Z" fill="#1f86b8"/>
<path d="M370.8,396.8 L381.8,396.8 L393.5,415.5 Q397,423.4 389,423.4 L363.5,423.4 Q355.5,423.4 359,415.5 Z" fill="#1f86b8"/>
<path d="M379.7,408.6 Q378.8,406.9 376.4,406.9 Q373.2,406.9 373.2,409.4 Q373.2,411.3 376.4,411.9 Q379.7,412.6 379.7,414.9 Q379.7,417.3 376.4,417.3 Q373.9,417.3 372.9,415.5 M376.4,404.9 L376.4,407 M376.4,417.2 L376.4,419.2" fill="none" stroke="#fff" stroke-width="2.1"/>
<circle cx="177" cy="472.7" r="4.8" fill="#1f4cc0"/>
<circle cx="191.8" cy="472.7" r="4.8" fill="#1f4cc0"/>
<circle cx="168.6" cy="485.7" r="4.8" fill="#1f4cc0"/>
<circle cx="200.4" cy="485.7" r="4.8" fill="#1f4cc0"/>
<circle cx="177" cy="498.2" r="4.8" fill="#1f4cc0"/>
<circle cx="191.8" cy="498.2" r="4.8" fill="#1f4cc0"/>
<path d="M184.3,485.7 L177,472.7 M184.3,485.7 L200.4,485.7 M184.3,485.7 L177,498.2" stroke="#1f4cc0" stroke-width="2.2"/>
<circle cx="184.3" cy="485.7" r="4.6" fill="#fff" stroke="#1f4cc0" stroke-width="2.3"/>
<rect x="428.1" y="471.7" width="14.6" height="5.7" fill="#9a9a9a"/>
<rect x="450" y="471.7" width="15.1" height="5.7" fill="#9a9a9a"/>
<defs><linearGradient id="prodg" x1="446" y1="481" x2="456" y2="503" gradientUnits="userSpaceOnUse"><stop offset="0" stop-color="#5f9bd0"/><stop offset="0.5" stop-color="#6099c8"/><stop offset="0.82" stop-color="#9a9a9a"/><stop offset="1" stop-color="#9a9a9a"/></linearGradient></defs>
<path d="M428.1,480 L465.1,480 L465.1,499 Q465.1,503 461,503 L432.1,503 Q428.1,503 428.1,499 Z" fill="url(#prodg)"/>
<rect x="442.7" y="479.5" width="7.3" height="5.7" fill="#f5f7f8"/>
<rect x="451" y="491.5" width="9" height="6.2" fill="#f8f9fa"/>
<defs><linearGradient id="gearg" x1="162" y1="0" x2="194" y2="0" gradientUnits="userSpaceOnUse"><stop offset="0" stop-color="#58b4c0"/><stop offset="0.44" stop-color="#4a97cf"/><stop offset="0.44" stop-color="#9a9a9a"/><stop offset="1" stop-color="#9a9a9a"/></linearGradient></defs>
<path d="M179.88,581.30 L181.80,579.21 L186.14,581.01 L186.02,583.84 L188.26,586.08 L191.09,585.96 L192.89,590.30 L190.80,592.22 L190.80,595.38 L192.89,597.30 L191.09,601.64 L188.26,601.52 L186.02,603.76 L186.14,606.59 L181.80,608.39 L179.88,606.30 L176.72,606.30 L174.80,608.39 L170.46,606.59 L170.58,603.76 L168.34,601.52 L165.51,601.64 L163.71,597.30 L165.80,595.38 L165.80,592.22 L163.71,590.30 L165.51,585.96 L168.34,586.08 L170.58,583.84 L170.46,581.01 L174.80,579.21 L176.72,581.30 Z M185.20000000000002,593.8 A6.9,6.9 0 1 0 171.4,593.8 A6.9,6.9 0 1 0 185.20000000000002,593.8 Z" fill="url(#gearg)" fill-rule="evenodd" stroke="url(#gearg)" stroke-width="0.6" stroke-linejoin="round"/>
<path d="M194.59,568.55 L195.25,566.59 L198.95,566.59 L199.61,568.55 L201.69,569.75 L203.71,569.34 L205.56,572.55 L204.20,574.10 L204.20,576.50 L205.56,578.05 L203.71,581.26 L201.69,580.85 L199.61,582.05 L198.95,584.01 L195.25,584.01 L194.59,582.05 L192.51,580.85 L190.49,581.26 L188.64,578.05 L190.00,576.50 L190.00,574.10 L188.64,572.55 L190.49,569.34 L192.51,569.75 Z M200.9,575.3 A3.8,3.8 0 1 0 193.29999999999998,575.3 A3.8,3.8 0 1 0 200.9,575.3 Z" fill="#9a9a9a" fill-rule="evenodd" stroke="#9a9a9a" stroke-width="0.6" stroke-linejoin="round"/>
<path d="M424.3,589.1 L431.6,589.4 L432.6,591.3 L441,592.4 Q447,593.4 449.8,594 L453,591.2 Q455,590.2 457,590.8 L459.3,590.1 L462,590.8 L464.6,590.5 L467,591.2 Q469.3,592.3 468.9,594.4 L449.8,606.6 Q447.6,608 445,608 L432.6,606.6 L431.6,608.6 L424.3,608.6 Z" fill="#1f4cc0"/>
<path d="M439.2,600.3 L447.3,600.3 Q451.3,599.8 451.3,596.6 Q451.2,594.3 450.2,592.6" fill="none" stroke="#f5f7f8" stroke-width="1.7"/>
<circle cx="445.7" cy="585.1" r="4.3" fill="none" stroke="#1f4cc0" stroke-width="1.8"/>
<circle cx="453.3" cy="575.9" r="2.9" fill="none" stroke="#1f4cc0" stroke-width="1.6"/>
<circle cx="262.3" cy="649.5" r="9.5" fill="#1f86b8"/>
<path d="M244,676.2 L244,671 Q244,662 256,662 L269,662 Q280.6,662 280.6,671 L280.6,676.2 Z" fill="#1f86b8"/>
<path d="M257.7,665 L266.9,665 L264.1,670.2 L266.3,676.3 L258.6,676.3 L260.5,670.2 Z" fill="#f5f7f8"/>
<path d="M365.7,639.4 L387.7,639.4 L387.7,652.0 Q387.7,654.2 385.5,654.2 L367.9,654.2 Q365.7,654.2 365.7,652.0 Z" fill="#3ee0cf"/>
<rect x="368.6" y="644.2" width="16.20" height="7.10" fill="#f5f7f8"/>
<path d="M353.7,661.4 L374.2,661.4 L374.2,674.0 Q374.2,676.2 372.0,676.2 L355.9,676.2 Q353.7,676.2 353.7,674.0 Z" fill="#3ee0cf"/>
<rect x="356.9" y="666" width="14.20" height="7.40" fill="#f5f7f8"/>
<path d="M378.3,661.4 L398.8,661.4 L398.8,674.0 Q398.8,676.2 396.6,676.2 L380.5,676.2 Q378.3,676.2 378.3,674.0 Z" fill="#3ee0cf"/>
<rect x="381.5" y="666" width="14.10" height="7.40" fill="#f5f7f8"/>
<path d="M376.7,654 L376.7,657.6 M363.6,657.6 L389.6,657.6 M363.6,657 L363.6,661.5 M389.6,657 L389.6,661.5" stroke="#3ee0cf" stroke-width="1.6" fill="none"/>
<g fill="none" stroke="#1ba1e2" stroke-width="4.9"><path d="M1086,678.7 V701.7"/><path d="M1093.8,678.7 V701.7 M1093.8,690 Q1093.8,681.2 1104,681.2 Q1114.3,681.2 1114.3,690 V701.7 M1114.3,690 Q1114.3,681.2 1123.7,681.2 Q1133.2,681.2 1133.2,690 V701.7"/><ellipse cx="1151.6" cy="690.2" rx="10.2" ry="9.05"/><path d="M1162.7,678.7 V701.7"/><path d="M1170.9,678.7 V701.7 M1170.9,691 Q1170.9,681.2 1182.5,681.2"/><path d="M1201,684 A9.3,9.05 0 1 0 1201,696.4"/></g>
<circle cx="1087.3" cy="664.5" r="3.4" fill="#1ba1e2"/>
<rect x="1205.4" y="678.7" width="2.3" height="22.2" fill="#111"/>
<text x="1212.7" y="688.2" font-size="8.6" font-weight="bold" fill="#1a1a1a" stroke="#1a1a1a" stroke-width="0.2" textLength="46" lengthAdjust="spacingAndGlyphs">IMPACTFUL</text>
<text x="1212.7" y="697.8" font-size="8.6" font-weight="bold" fill="#1a1a1a" stroke="#1a1a1a" stroke-width="0.2" textLength="38.6" lengthAdjust="spacingAndGlyphs">INSIGHTS</text>
<defs>
<linearGradient id="bev" x1="0.85" y1="0.1" x2="0.15" y2="0.9">
 <stop offset="0" stop-color="#fff" stop-opacity="0.3"/>
 <stop offset="0.35" stop-color="#fff" stop-opacity="0.0"/>
 <stop offset="0.7" stop-color="#fff" stop-opacity="0.0"/>
 <stop offset="1" stop-color="#fff" stop-opacity="0.14"/>
</linearGradient>
<filter id="shd" x="-20%" y="-20%" width="140%" height="140%"><feGaussianBlur stdDeviation="1.6"/></filter>
</defs>
<circle cx="964" cy="420.5" r="205.5" fill="none" stroke="#d3dfea" stroke-width="20"/>
<ellipse cx="964.3" cy="422.2" rx="97.6" ry="97.6" fill="#000" opacity="0.18" filter="url(#shd)"/>
<ellipse cx="963.5" cy="421" rx="97" ry="97" fill="#a3e4f8"/>
<ellipse cx="963.5" cy="421" rx="94.8" ry="94.8" fill="none" stroke="url(#bev)" stroke-width="2.6"/>
<ellipse cx="963.5" cy="421" rx="96.6" ry="96.6" fill="none" stroke="#000" stroke-opacity="0.07" stroke-width="0.8"/>
<ellipse cx="964.8" cy="210.2" rx="73.1" ry="68.6" fill="#000" opacity="0.18" filter="url(#shd)"/>
<ellipse cx="964" cy="209" rx="72.5" ry="68" fill="#0a9de0"/>
<ellipse cx="964" cy="209" rx="70.3" ry="65.8" fill="none" stroke="url(#bev)" stroke-width="2.6"/>
<ellipse cx="964" cy="209" rx="72.1" ry="67.6" fill="none" stroke="#000" stroke-opacity="0.07" stroke-width="0.8"/>
<ellipse cx="781.8" cy="316.2" rx="68.6" ry="68.6" fill="#000" opacity="0.18" filter="url(#shd)"/>
<ellipse cx="781" cy="315" rx="68" ry="68" fill="#5b8cc0"/>
<ellipse cx="781" cy="315" rx="65.8" ry="65.8" fill="none" stroke="url(#bev)" stroke-width="2.6"/>
<ellipse cx="781" cy="315" rx="67.6" ry="67.6" fill="none" stroke="#000" stroke-opacity="0.07" stroke-width="0.8"/>
<ellipse cx="1146.8" cy="316.2" rx="68.6" ry="68.6" fill="#000" opacity="0.18" filter="url(#shd)"/>
<ellipse cx="1146" cy="315" rx="68" ry="68" fill="#1a4f66"/>
<ellipse cx="1146" cy="315" rx="65.8" ry="65.8" fill="none" stroke="url(#bev)" stroke-width="2.6"/>
<ellipse cx="1146" cy="315" rx="67.6" ry="67.6" fill="none" stroke="#000" stroke-opacity="0.07" stroke-width="0.8"/>
<ellipse cx="782.5" cy="527.2" rx="68.6" ry="68.6" fill="#000" opacity="0.18" filter="url(#shd)"/>
<ellipse cx="781.7" cy="526" rx="68" ry="68" fill="#b3914a"/>
<ellipse cx="781.7" cy="526" rx="65.8" ry="65.8" fill="none" stroke="url(#bev)" stroke-width="2.6"/>
<ellipse cx="781.7" cy="526" rx="67.6" ry="67.6" fill="none" stroke="#000" stroke-opacity="0.07" stroke-width="0.8"/>
<ellipse cx="1147.3" cy="527.2" rx="68.6" ry="68.6" fill="#000" opacity="0.18" filter="url(#shd)"/>
<ellipse cx="1146.5" cy="526" rx="68" ry="68" fill="#8e3a66"/>
<ellipse cx="1146.5" cy="526" rx="65.8" ry="65.8" fill="none" stroke="url(#bev)" stroke-width="2.6"/>
<ellipse cx="1146.5" cy="526" rx="67.6" ry="67.6" fill="none" stroke="#000" stroke-opacity="0.07" stroke-width="0.8"/>
<ellipse cx="964.5" cy="632.2" rx="68.6" ry="68.6" fill="#000" opacity="0.18" filter="url(#shd)"/>
<ellipse cx="963.7" cy="631" rx="68" ry="68" fill="#9c5e9c"/>
<ellipse cx="963.7" cy="631" rx="65.8" ry="65.8" fill="none" stroke="url(#bev)" stroke-width="2.6"/>
<ellipse cx="963.7" cy="631" rx="67.6" ry="67.6" fill="none" stroke="#000" stroke-opacity="0.07" stroke-width="0.8"/>
<text x="963.5" y="204.4" font-size="15" font-weight="bold" fill="#ffffff" stroke="#ffffff" stroke-width="0.35" text-anchor="middle" textLength="29.0" lengthAdjust="spacingAndGlyphs">Risk</text>
<text x="963.7" y="223.3" font-size="15" font-weight="bold" fill="#ffffff" stroke="#ffffff" stroke-width="0.35" text-anchor="middle" textLength="94.0" lengthAdjust="spacingAndGlyphs">Management</text>
<text x="1145.5" y="319.8" font-size="15" font-weight="bold" fill="#ffffff" stroke="#ffffff" stroke-width="0.35" text-anchor="middle" textLength="65.0" lengthAdjust="spacingAndGlyphs">Valuation</text>
<text x="781.0" y="299.4" font-size="15.5" font-weight="bold" fill="#ffffff" stroke="#ffffff" stroke-width="0.35" text-anchor="middle" textLength="64.1" lengthAdjust="spacingAndGlyphs">Informed</text>
<text x="781.0" y="318.8" font-size="15.5" font-weight="bold" fill="#ffffff" stroke="#ffffff" stroke-width="0.35" text-anchor="middle" textLength="58.7" lengthAdjust="spacingAndGlyphs">Decision</text>
<text x="781.5" y="337.8" font-size="15.5" font-weight="bold" fill="#ffffff" stroke="#ffffff" stroke-width="0.35" text-anchor="middle" textLength="51.5" lengthAdjust="spacingAndGlyphs">Making</text>
<text x="963.3" y="412.4" font-size="22.5" font-weight="bold" fill="#ffffff" stroke="#ffffff" stroke-width="0.35" text-anchor="middle" textLength="79.4" lengthAdjust="spacingAndGlyphs">Uses of</text>
<text x="963.2" y="442" font-size="22.5" font-weight="bold" fill="#ffffff" stroke="#ffffff" stroke-width="0.35" text-anchor="middle" textLength="127.0" lengthAdjust="spacingAndGlyphs">Cost Model</text>
<text x="781.5" y="520.8" font-size="15.5" font-weight="bold" fill="#ffffff" stroke="#ffffff" stroke-width="0.35" text-anchor="middle" textLength="49.3" lengthAdjust="spacingAndGlyphs">Raising</text>
<text x="781.1" y="539.9" font-size="15.5" font-weight="bold" fill="#ffffff" stroke="#ffffff" stroke-width="0.35" text-anchor="middle" textLength="46.6" lengthAdjust="spacingAndGlyphs">Capital</text>
<text x="1145.5" y="520.7" font-size="15.5" font-weight="bold" fill="#ffffff" stroke="#ffffff" stroke-width="0.35" text-anchor="middle" textLength="87.2" lengthAdjust="spacingAndGlyphs">Mergers and</text>
<text x="1145.8" y="539.5" font-size="15.5" font-weight="bold" fill="#ffffff" stroke="#ffffff" stroke-width="0.35" text-anchor="middle" textLength="84.4" lengthAdjust="spacingAndGlyphs">Acquisitions</text>
<text x="964.1" y="616.9" font-size="15.5" font-weight="bold" fill="#ffffff" stroke="#ffffff" stroke-width="0.35" text-anchor="middle" textLength="71.0" lengthAdjust="spacingAndGlyphs">Budgeting</text>
<text x="963.9" y="635.4" font-size="15.5" font-weight="bold" fill="#ffffff" stroke="#ffffff" stroke-width="0.35" text-anchor="middle" textLength="24.8" lengthAdjust="spacingAndGlyphs">and</text>
<text x="964.1" y="654.8" font-size="15.5" font-weight="bold" fill="#ffffff" stroke="#ffffff" stroke-width="0.35" text-anchor="middle" textLength="79.8" lengthAdjust="spacingAndGlyphs">Forecasting</text>
</svg>
</body></html>
